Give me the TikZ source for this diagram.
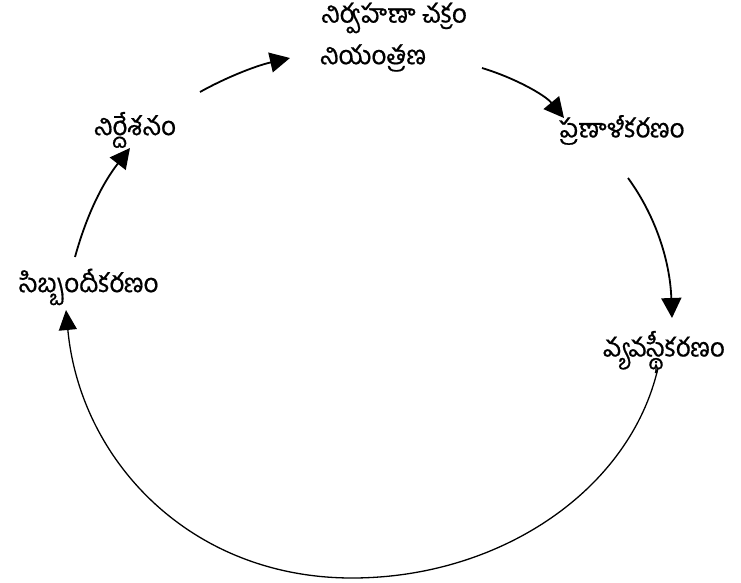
\documentclass[tikz,border=0pt]{standalone}
\usepackage{fontspec}
\newfontfamily\telugu[Script=Telugu,FakeBold=0.6]{Hind Guntur}
\usetikzlibrary{arrows.meta}
\begin{document}
\begin{tikzpicture}[x=1pt,y=-1pt,
  lbl/.style={font=\telugu\fontsize{26}{30}\selectfont, inner sep=0pt},
  arr/.style={line width=1.8pt, -{Triangle[length=20pt,width=20pt]}},
  bigarr/.style={line width=1.3pt, -{Triangle[length=20pt,width=18pt]}}]
\useasboundingbox (0,0) rectangle (741,583);
\node[lbl] (title) at (394,18) {నిర్వహణా చక్రం};
\node[lbl] (ctrl) at (373,58) {నియంత్రణ};
\node[lbl] (plan) at (622,130) {ప్రణాళీకరణం};
\node[lbl] (org) at (664,352) {వ్యవస్థీకరణం};
\node[lbl] (staff) at (89,287) {సిబ్బందీకరణం};
\node[lbl] (dir) at (135,130) {నిర్దేశనం};
\coordinate (a1s) at (200,92);
\coordinate (a1e) at (290,58);
\coordinate (a2s) at (482,68);
\coordinate (a2e) at (564,118);
\coordinate (a3s) at (628,178);
\coordinate (a3e) at (672,318);
\coordinate (a4s) at (658,368);
\coordinate (a4m) at (352,578);
\coordinate (a4e) at (66,310);
\coordinate (a5s) at (75,257);
\coordinate (a5e) at (130,148);
\draw[arr] (a1s) .. controls (225,78) and (255,66) .. (a1e);
\draw[arr] (a2s) .. controls (515,78) and (545,95) .. (a2e);
\draw[arr] (a3s) .. controls (655,215) and (670,260) .. (a3e);
\draw[bigarr] (a4s) .. controls (630,490) and (500,578) .. (a4m)
   .. controls (190,578) and (80,460) .. (a4e);
\draw[arr] (a5s) .. controls (88,210) and (105,180) .. (a5e);
\end{tikzpicture}
\end{document}
